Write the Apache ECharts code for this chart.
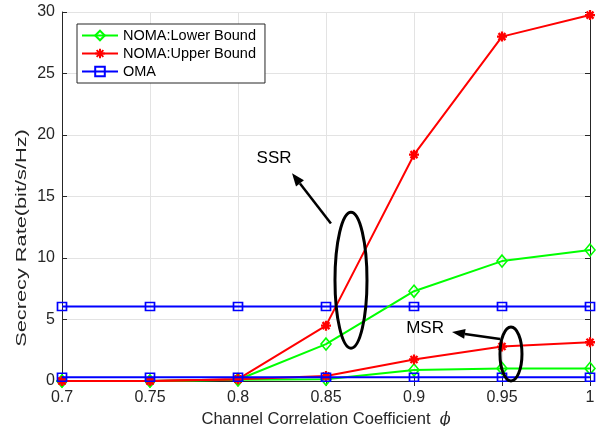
<!DOCTYPE html>
<html><head><meta charset="utf-8">
<script src="https://cdn.jsdelivr.net/npm/echarts@6/dist/echarts.min.js"></script>
<style>html,body{margin:0;padding:0;background:#fff}#c{width:600px;height:426px}</style>
</head><body><div id="c"></div>
<script>
// ---- data ----
const phi = [0.7, 0.75, 0.8, 0.85, 0.9, 0.95, 1.0];
const ssrLower = [0, 0, 0.1, 3.0, 7.3, 9.75, 10.65];
const ssrUpper = [0, 0, 0.15, 4.5, 18.4, 28.0, 29.75];
const ssrOMA = [6.05, 6.05, 6.05, 6.05, 6.05, 6.05, 6.05];
const msrLower = [0, 0, 0.1, 0.15, 0.9, 1.02, 1.02];
const msrUpper = [0, 0, 0.15, 0.4, 1.75, 2.8, 3.15];
const msrOMA = [0.3, 0.3, 0.3, 0.3, 0.3, 0.3, 0.3];
const xTickLabels = ['0.7', '0.75', '0.8', '0.85', '0.9', '0.95', '1'];
const yTickLabels = ['0', '5', '10', '15', '20', '25', '30'];
const legendNames = ['NOMA:Lower Bound', 'NOMA:Upper Bound', 'OMA'];
// annotation anchors in data coordinates
const ssrText = [0.8205, 18.1], ssrArrowTail = [0.8528, 12.8], ssrArrowHead = [0.8307, 16.9], ssrEllipse = [0.8642, 8.2];
const msrText = [0.9063, 4.25], msrArrowTail = [0.9489, 3.41], msrArrowHead = [0.9216, 3.98], msrEllipse = [0.9551, 2.2];

const GREEN = '#00ff00', RED = '#ff0000', BLUE = '#0000ff', AX = '#262626';
const diamond = 'path://M5,0L10,6L5,12L0,6Z';
const square = 'path://M0,0L10,0L10,9L0,9Z';
const aster = 'path://M5,0L5,10M0,5L10,5M1.5,1.5L8.5,8.5M1.5,8.5L8.5,1.5';

function pts(ys) { return phi.map((x, i) => [x, ys[i]]); }
function mk(name, ys, color, sym, size, bw, z) {
  return {
    name: name, type: 'line', data: pts(ys), clip: false, z: z,
    symbol: sym, symbolSize: size, symbolKeepAspect: false,
    lineStyle: { color: color, width: 2 },
    itemStyle: { color: 'rgba(0,0,0,0)', borderColor: color, borderWidth: bw },
    emphasis: { disabled: true }, animation: false
  };
}

const chart = echarts.init(document.getElementById('c'));
const fontFam = 'Liberation Sans, Arial, Helvetica, sans-serif';
chart.setOption({
  animation: false,
  textStyle: { fontFamily: fontFam },
  grid: { left: 62, right: 10, top: 12, bottom: 45, show: false, containLabel: false, outerBoundsMode: 'none' },
  legend: {
    data: legendNames, orient: 'vertical', left: 77, top: 24,
    padding: [4, 9, 4, 4], itemGap: 3, itemWidth: 36, itemHeight: 12,
    borderColor: AX, borderWidth: 1, backgroundColor: '#fff',
    textStyle: { fontSize: 14.5, color: '#000', fontFamily: fontFam },
    selectedMode: false
  },
  xAxis: [{
    type: 'value', min: 0.7, max: 1, interval: 0.05,
    name: 'Channel Correlation Coefficient  {i|ϕ}', nameLocation: 'middle', nameGap: 30,
    nameTextStyle: { fontSize: 16.5, color: AX, rich: { i: { fontSize: 16, fontStyle: 'italic', fontFamily: 'DejaVu Serif', color: AX } } },
    axisLine: { lineStyle: { color: AX, width: 1 } },
    axisTick: { inside: true, length: 5, lineStyle: { color: AX } },
    axisLabel: { fontSize: 16, color: AX, margin: 9, formatter: v => xTickLabels[Math.round((v - 0.7) / 0.05)] },
    splitLine: { show: true, lineStyle: { color: '#e3e3e3', width: 1 } }
  }, {
    type: 'value', min: 0.7, max: 1, interval: 0.05, position: 'top',
    axisLine: { show: true, lineStyle: { color: AX, width: 1 } },
    axisTick: { inside: true, length: 5, lineStyle: { color: AX } },
    axisLabel: { show: false }, splitLine: { show: false }
  }],
  yAxis: [{
    type: 'value', min: 0, max: 30, interval: 5,
    axisLine: { show: true, lineStyle: { color: AX, width: 1 } },
    axisTick: { show: true, inside: true, length: 5, lineStyle: { color: AX } },
    axisLabel: { fontSize: 16, color: AX, margin: 7, formatter: v => yTickLabels[Math.round(v / 5)] },
    splitLine: { show: true, lineStyle: { color: '#e3e3e3', width: 1 } }
  }, {
    type: 'value', min: 0, max: 30, interval: 5, position: 'right',
    axisLine: { show: true, lineStyle: { color: AX, width: 1 } },
    axisTick: { show: true, inside: true, length: 5, lineStyle: { color: AX } },
    axisLabel: { show: false }, splitLine: { show: false }
  }],
  series: [
    mk(legendNames[0], ssrLower, GREEN, diamond, [10, 12], 1.6, 3),
    mk(legendNames[1], ssrUpper, RED, aster, 10, 2.3, 4),
    mk(legendNames[2], ssrOMA, BLUE, square, [9, 8], 1.6, 2),
    mk(legendNames[0], msrLower, GREEN, diamond, [10, 12], 1.6, 3),
    mk(legendNames[1], msrUpper, RED, aster, 10, 2.3, 4),
    mk(legendNames[2], msrOMA, BLUE, square, [9, 8], 1.6, 5)
  ]
});

function P(c) { return chart.convertToPixel({ xAxisIndex: 0, yAxisIndex: 0 }, c); }
function arrow(tail, head) {
  const a = P(tail), b = P(head);
  const ang = Math.atan2(b[1] - a[1], b[0] - a[0]);
  const L = 13, W = 5;
  const bx = b[0] - L * Math.cos(ang), by = b[1] - L * Math.sin(ang);
  const nx = -Math.sin(ang), ny = Math.cos(ang);
  return [
    { type: 'line', z: 100, shape: { x1: a[0], y1: a[1], x2: bx, y2: by }, style: { stroke: '#000', lineWidth: 2.5 } },
    { type: 'polygon', z: 100, shape: { points: [[b[0], b[1]], [bx + nx * W, by + ny * W], [bx - nx * W, by - ny * W]] }, style: { fill: '#000' } }
  ];
}
function ell(c, rx, ry) {
  const p = P(c);
  return { type: 'ellipse', z: 100, shape: { cx: p[0], cy: p[1], rx: rx, ry: ry }, style: { fill: 'none', stroke: '#000', lineWidth: 3 } };
}
function label(c, t) {
  const p = P(c);
  return { type: 'text', z: 100, x: p[0], y: p[1], style: { text: t, fontSize: 17, fontFamily: fontFam, fill: '#000', align: 'center', verticalAlign: 'middle' } };
}
chart.setOption({
  graphic: [].concat(
    [label(ssrText, 'SSR'), label(msrText, 'MSR'), ell(ssrEllipse, 16, 68), ell(msrEllipse, 11, 27)],
    arrow(ssrArrowTail, ssrArrowHead), arrow(msrArrowTail, msrArrowHead),
    [{ type: 'text', z: 100, x: 22, y: 238, rotation: Math.PI / 2, scaleX: 1.5,
       style: { text: 'Secrecy Rate(bit/s/Hz)', fontSize: 14.5, fontFamily: fontFam, fill: AX, align: 'center', verticalAlign: 'middle' } }]
  )
});
</script></body></html>
